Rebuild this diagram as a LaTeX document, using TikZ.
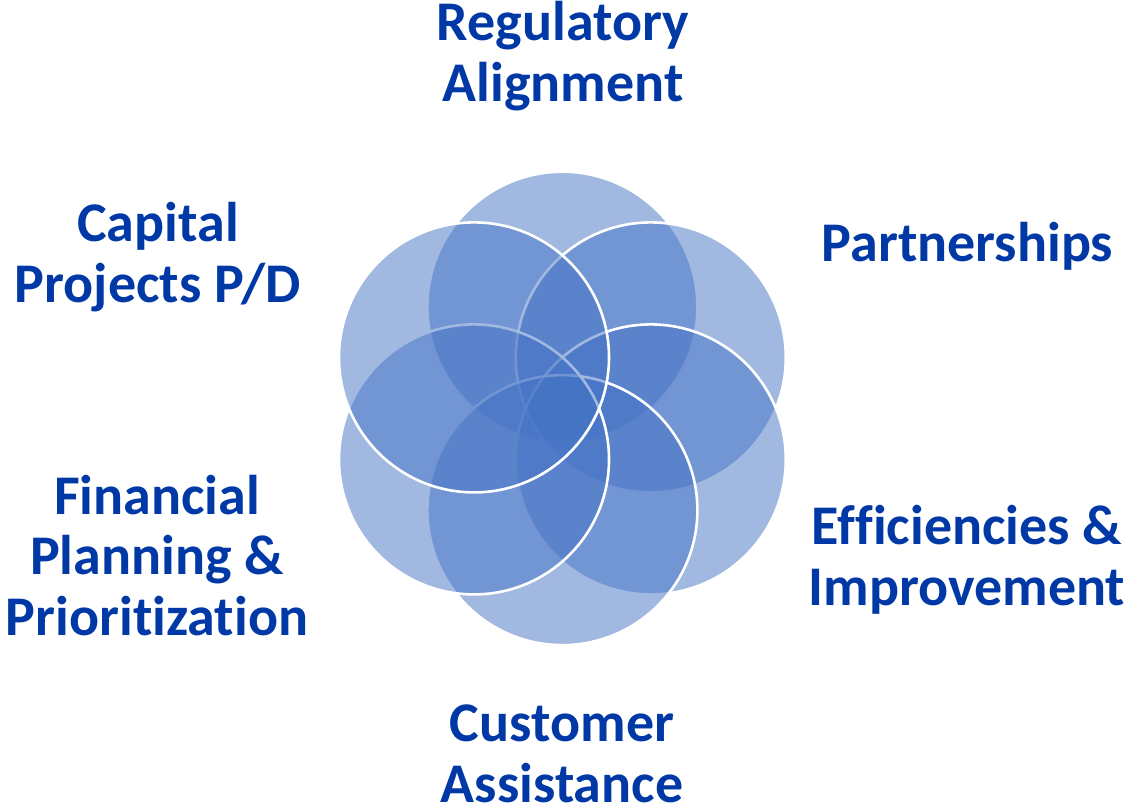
\documentclass[tikz,border=0pt]{standalone}
\usepackage{fontspec}
\setmainfont[Ligatures=NoCommon]{Carlito}
\definecolor{petal}{RGB}{68,114,196}
\definecolor{labelblue}{RGB}{0,57,166}
\begin{document}
\begin{tikzpicture}[x=1pt,y=-1pt,
  petalcircle/.style={fill=petal, fill opacity=0.5, draw=white, draw opacity=1, line width=2.6pt},
  lbl/.style={text=labelblue, font=\fontsize{56}{60.5}\selectfont\bfseries, align=center, inner sep=0pt, anchor=base}]
\useasboundingbox (0,0) rectangle (1124,807);
\def\R{135}
\filldraw[petalcircle] (562.4,306.7) circle (\R);
\filldraw[petalcircle] (650.8,357.4) circle (\R);
\filldraw[petalcircle] (650.8,459.4) circle (\R);
\filldraw[petalcircle] (562.4,510.1) circle (\R);
\filldraw[petalcircle] (474.0,459.4) circle (\R);
\filldraw[petalcircle] (474.0,357.4) circle (\R);
\node[lbl] (reg) at (563,101) {Regulatory\\Alignment};
\node[lbl] (part) at (967.5,261) {Partnerships};
\node[lbl] (cap) at (158,302) {Capital\\Projects P/D};
\node[lbl] (fin) at (157,635) {Financial\\Planning \&\\Prioritization};
\node[lbl] (eff) at (967,605) {Efficiencies \&\\Improvement};
\node[lbl] (cust) at (562,802) {Customer\\Assistance};
\end{tikzpicture}
\end{document}
